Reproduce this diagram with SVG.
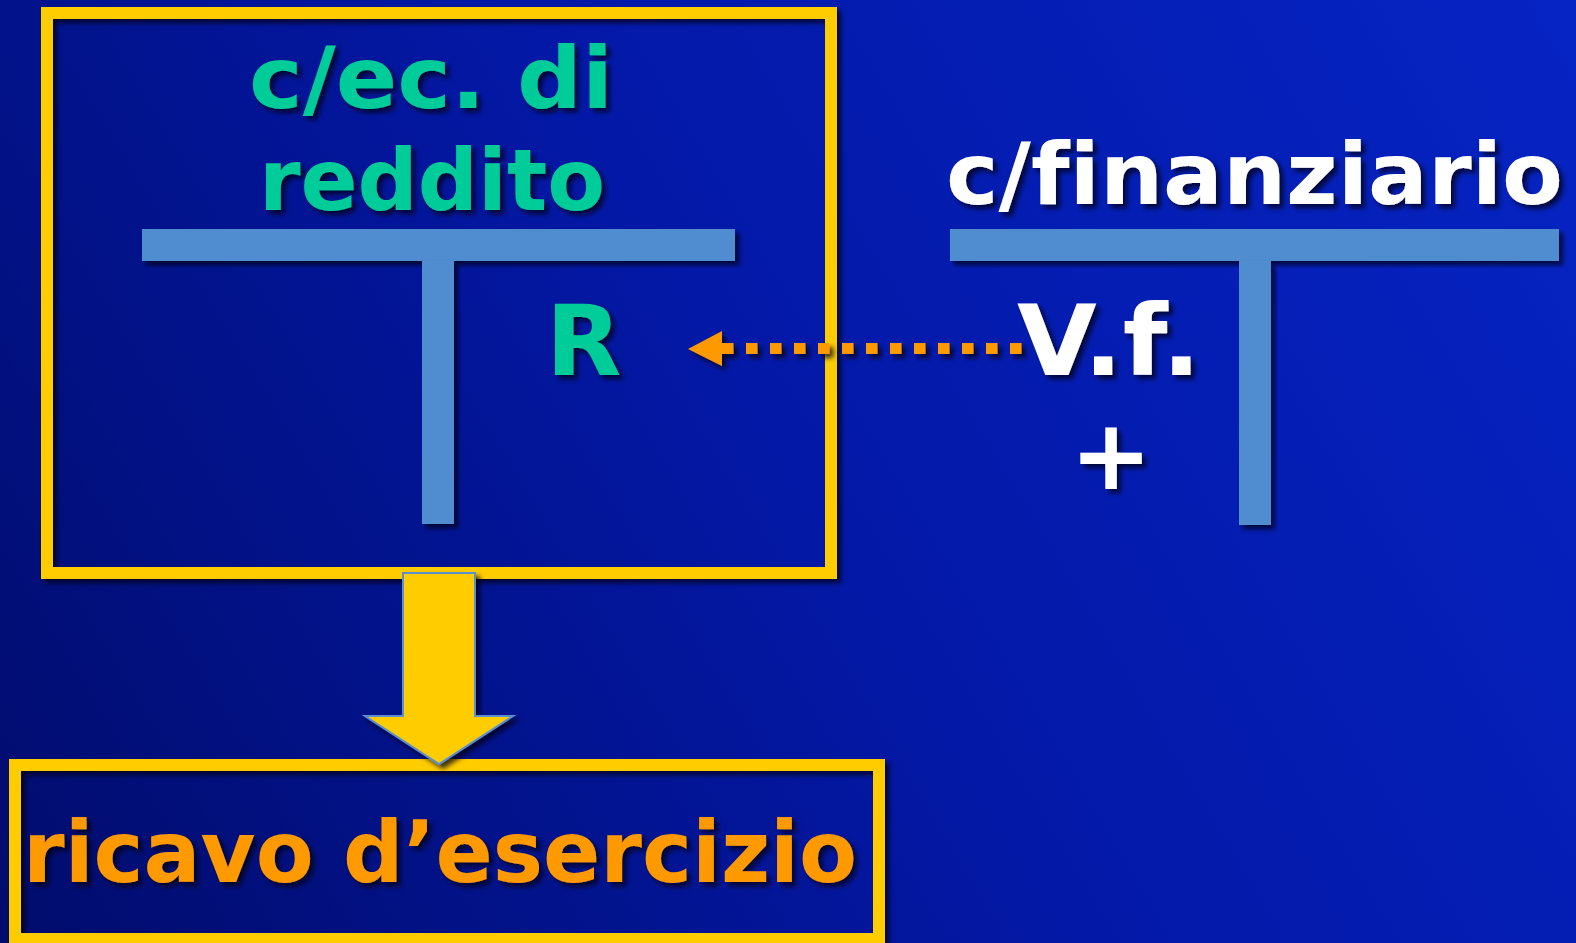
<svg xmlns="http://www.w3.org/2000/svg" width="1576" height="943" viewBox="0 0 1576 943">
<defs>
<linearGradient id="bg" x1="0" y1="943" x2="1576" y2="0" gradientUnits="userSpaceOnUse">
<stop offset="0" stop-color="#010c6c"/>
<stop offset="0.5" stop-color="#0318a6"/>
<stop offset="1" stop-color="#0624c4"/>
</linearGradient>
<filter id="sh" x="-10%" y="-10%" width="130%" height="130%">
<feDropShadow dx="4" dy="4" stdDeviation="2.5" flood-color="#000018" flood-opacity="0.75"/>
</filter>
</defs>
<style>
.frame{fill:none;stroke:#ffcc00;stroke-width:12;filter:url(#sh)}
.bar{fill:#508dd0;filter:url(#sh)}
.t{font-family:"DejaVu Sans",Verdana,sans-serif;font-weight:bold;filter:url(#sh);font-variant-ligatures:none;font-feature-settings:"liga" 0,"clig" 0}
.green{fill:#00cc99}
.white{fill:#ffffff}
.orange{fill:#ff9900}
</style>
<rect x="0" y="0" width="1576" height="943" fill="url(#bg)"/>

<g id="conto-economico">
<rect class="frame" x="47" y="13" width="784" height="560"/>
<text class="t green" x="249" y="108" font-size="86" textLength="364" lengthAdjust="spacingAndGlyphs">c/ec. di</text>
<text class="t green" x="259" y="210" font-size="86" textLength="346" lengthAdjust="spacingAndGlyphs">reddito</text>
<rect class="bar" x="142" y="229" width="593" height="32"/>
<rect class="bar" x="422" y="261" width="32" height="263"/>
<text class="t green" x="546" y="375" font-size="98">R</text>
</g>

<g id="conto-finanziario">
<text class="t white" x="946" y="204" font-size="86" textLength="617" lengthAdjust="spacingAndGlyphs">c/finanziario</text>
<rect class="bar" x="950" y="229" width="609" height="32"/>
<rect class="bar" x="1239" y="261" width="32" height="264"/>
<text class="t white" x="1017" y="375" font-size="98" textLength="184" lengthAdjust="spacingAndGlyphs">V.f.</text>
<text class="t white" x="1111" y="489" font-size="98" text-anchor="middle">+</text>
</g>

<g id="ricavo">
<rect class="frame" x="15" y="765" width="864" height="174"/>
<text class="t orange" x="23" y="882" font-size="86" textLength="834" lengthAdjust="spacingAndGlyphs">ricavo d’esercizio</text>
</g>

<g id="connectors">
<polygon points="403,573 475,573 475,716 513,716 439,764 365,716 403,716" fill="#ffcc00" stroke="#5b8fd0" stroke-width="2" filter="url(#sh)"/>
<g filter="url(#sh)">
<line x1="722" y1="348.5" x2="1022" y2="348.5" stroke="#ff9900" stroke-width="11" stroke-dasharray="11.5 12.5"/>
<polygon points="688,349 722,331 722,366" fill="#ff9900"/>
</g>
</g>
</svg>
